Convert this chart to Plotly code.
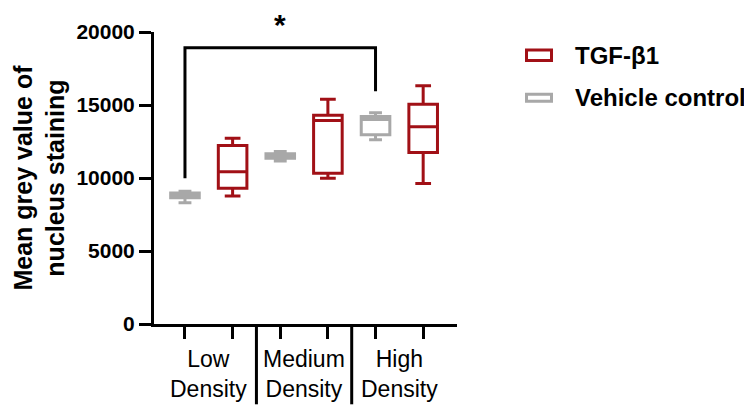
import plotly.graph_objects as go

# ---- data ----
groups = ["Low<br>Density", "Medium<br>Density", "High<br>Density"]
series_names = ["TGF-β1", "Vehicle control"]

vehicle_lowerfence = [8310, 11160, 12620]
vehicle_q1 = [8640, 11360, 12960]
vehicle_median = [8800, 11500, 14010]
vehicle_q3 = [8970, 11660, 14210]
vehicle_upperfence = [9100, 11820, 14470]

tgf_lowerfence = [8760, 9980, 9620]
tgf_q1 = [9290, 10330, 11740]
tgf_median = [10420, 13940, 13510]
tgf_q3 = [12220, 14290, 15050]
tgf_upperfence = [12720, 15390, 16310]

y_ticks = [0, 5000, 10000, 15000, 20000]

# significance bracket (low-density vehicle vs high-density vehicle)
sig_label = "*"
sig_left_end = 9980
sig_right_end = 15940
sig_top = 18920

# ---- styles ----
RED = "#A11016"
GREY = "#A8A8A8"
FONT = "Arial, Liberation Sans, Helvetica, sans-serif"
LW = 3

veh_x = [2 * i for i in range(len(groups))]
tgf_x = [2 * i + 1 for i in range(len(groups))]

fig = go.Figure()
fig.add_trace(go.Box(
    x=veh_x, q1=vehicle_q1, median=vehicle_median, q3=vehicle_q3,
    lowerfence=vehicle_lowerfence, upperfence=vehicle_upperfence,
    name=series_names[1], line=dict(color=GREY, width=LW), fillcolor="white",
    width=0.6, whiskerwidth=0.45, boxpoints=False, showlegend=False,
))
fig.add_trace(go.Box(
    x=tgf_x, q1=tgf_q1, median=tgf_median, q3=tgf_q3,
    lowerfence=tgf_lowerfence, upperfence=tgf_upperfence,
    name=series_names[0], line=dict(color=RED, width=LW), fillcolor="white",
    width=0.6, whiskerwidth=0.55, boxpoints=False, showlegend=False,
))

shapes = []
# group dividers below the x axis
for d in [1.5, 3.5]:
    shapes.append(dict(type="line", xref="x", yref="paper", x0=d, x1=d,
                       y0=0, y1=-0.275, line=dict(color="black", width=LW)))
# significance bracket
shapes.append(dict(
    type="path", xref="x", yref="y",
    path=f"M {veh_x[0]},{sig_left_end} L {veh_x[0]},{sig_top} L {veh_x[2]},{sig_top} L {veh_x[2]},{sig_right_end}",
    line=dict(color="black", width=LW),
))
# legend swatches
shapes.append(dict(type="rect", xref="paper", yref="paper", x0=1.2294, x1=1.3119,
                   y0=0.9023, y1=0.9387, line=dict(color=RED, width=LW), fillcolor="white"))
shapes.append(dict(type="rect", xref="paper", yref="paper", x0=1.2294, x1=1.3119,
                   y0=0.7632, y1=0.7864, line=dict(color=GREY, width=LW), fillcolor="white"))

annotations = []
for i, g in enumerate(groups):
    annotations.append(dict(
        text=g, x=2 * i + 0.5, xref="x", y=-0.07, yref="paper",
        xanchor="center", yanchor="top", showarrow=False,
        font=dict(family=FONT, size=23, color="black"),
    ))
annotations.append(dict(
    text="Mean grey value of<br>nucleus staining", textangle=-90,
    x=-0.381, xref="paper", y=0.5, yref="paper", xanchor="center", yanchor="middle",
    showarrow=False, font=dict(family=FONT, size=25, color="black", weight="bold"),
))
annotations.append(dict(
    text=sig_label, x=(veh_x[0] + veh_x[2]) / 2, xref="x", y=1.027, yref="paper",
    xanchor="center", yanchor="middle", showarrow=False,
    font=dict(family=FONT, size=30, color="black", weight="bold"),
))
annotations.append(dict(
    text=series_names[0], x=1.3828, xref="paper", y=0.9182, yref="paper",
    xanchor="left", yanchor="middle", showarrow=False,
    font=dict(family=FONT, size=24, color="black", weight="bold"),
))
annotations.append(dict(
    text=series_names[1], x=1.3828, xref="paper", y=0.7748, yref="paper",
    xanchor="left", yanchor="middle", showarrow=False,
    font=dict(family=FONT, size=24, color="black", weight="bold"),
))

# page body has an 8px default margin, so the figure is sized to fit the window
fig.update_layout(
    width=744, height=398,
    margin=dict(l=146, r=295, t=14, b=82),
    paper_bgcolor="white", plot_bgcolor="white",
    boxmode="overlay",
    shapes=shapes, annotations=annotations,
    font=dict(family=FONT, color="black"),
)
fig.update_xaxes(
    range=[-0.65, 5.71], tickvals=veh_x + tgf_x, ticktext=[""] * 6,
    ticks="outside", ticklen=12, tickwidth=LW, tickcolor="black",
    showline=True, linewidth=LW, linecolor="black",
    showgrid=False, zeroline=False,
)
fig.update_yaxes(
    range=[0, 20000], tickvals=y_ticks, ticktext=[str(v) for v in y_ticks],
    ticks="outside", ticklen=12, tickwidth=LW, tickcolor="black",
    showline=True, linewidth=LW, linecolor="black",
    showgrid=False, zeroline=False,
    tickfont=dict(family=FONT, size=21, color="black", weight="bold"),
)

fig.write_html("out.html")
